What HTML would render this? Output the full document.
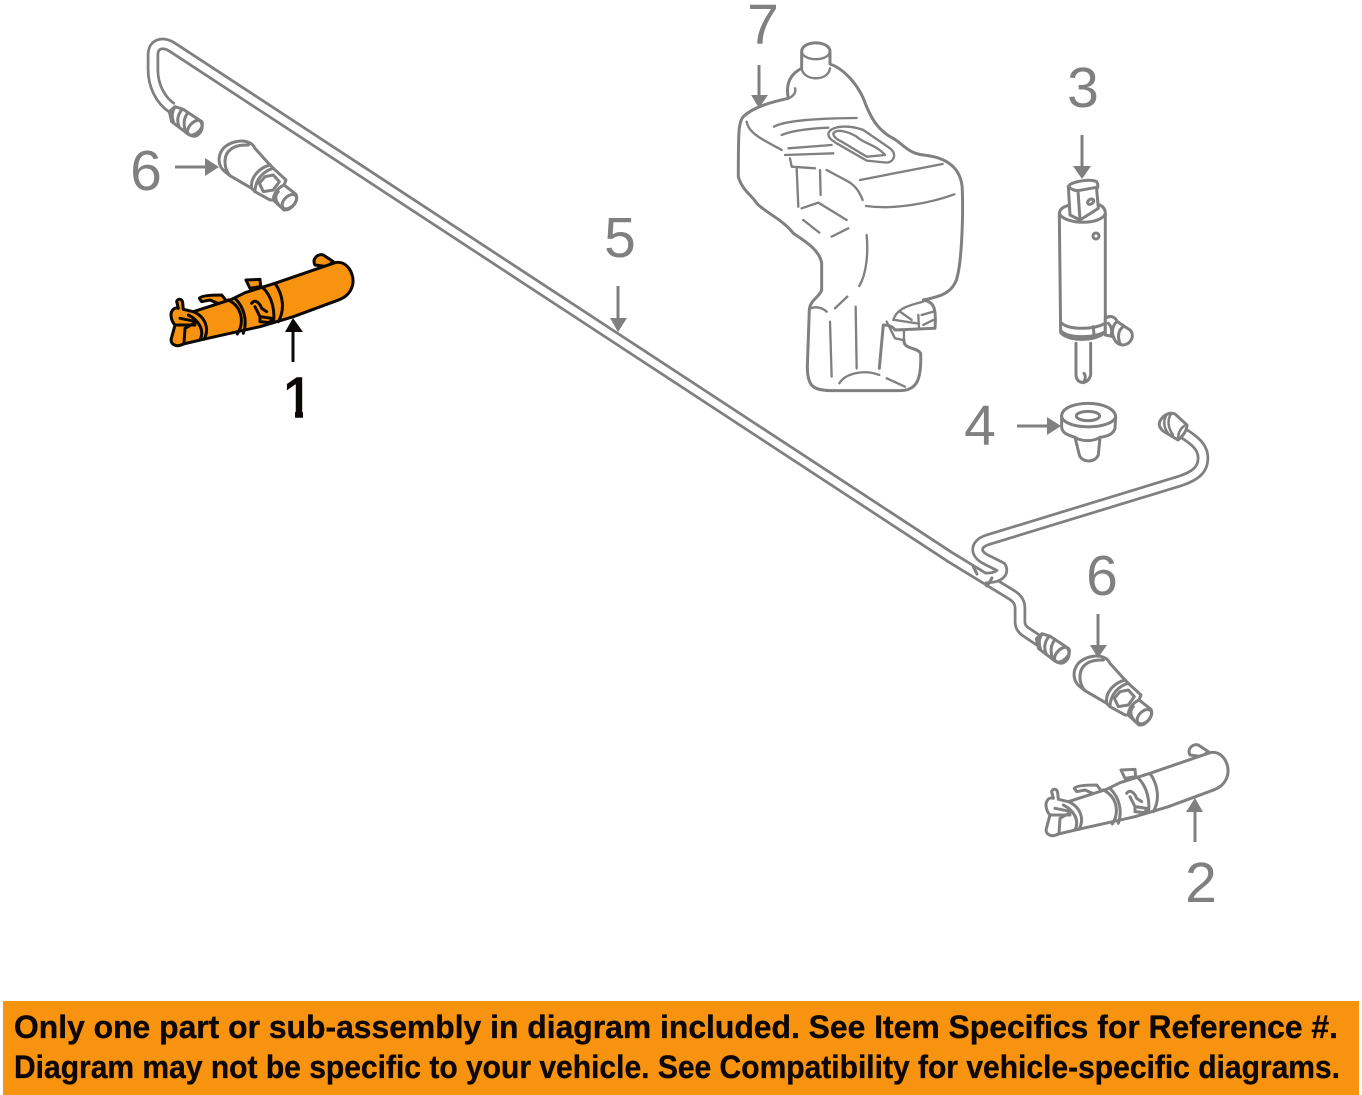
<!DOCTYPE html>
<html><head><meta charset="utf-8"><style>
html,body{margin:0;padding:0;background:#fff;width:1362px;height:1095px;overflow:hidden}
svg{display:block}
.l{fill:none;stroke:#808080;stroke-linecap:round;stroke-linejoin:round}
.n{font:57px "Liberation Sans",sans-serif;fill:#808080;text-anchor:middle}
.b{font:bold 32px "Liberation Sans",sans-serif;fill:#0d0805;stroke:#0d0805;stroke-width:.35}
</style></head><body>
<svg width="1362" height="1095" viewBox="0 0 1362 1095" xmlns="http://www.w3.org/2000/svg">
<rect width="1362" height="1095" fill="#fff"/>
<defs>
<g id="nozzle" fill="none" stroke-width="9" stroke-linecap="round" stroke-linejoin="round">
<path fill="#fff" d="M45,110C25,95 20,65 40,40C60,20 90,15 110,20C125,25 130,30 135,40L180,90L190,100L228,135L222,150L258,178C268,195 245,228 222,225L190,195L180,195L135,170L125,160L60,122Z"/>
<path d="M60,122C40,100 40,60 60,45C75,30 100,30 115,30M180,90C150,98 120,125 125,160M190,100C160,108 135,135 135,170M165,125L190,120L208,140L190,165L160,170L148,145ZM222,150C200,160 190,180 190,195M205,170C195,180 195,195 205,207"/>
<ellipse cx="238" cy="200" rx="16" ry="26" transform="rotate(45 238 200)"/>
</g>
<g id="fitting" fill="none" stroke-width="9" stroke-linecap="round" stroke-linejoin="round">
<path fill="#fff" d="M118,245L135,230L160,238L205,268C222,280 220,305 200,317C190,322 175,315 165,305L125,275Z"/>
<path d="M135,232C125,245 125,260 130,275M155,240C142,255 140,275 148,292M172,250C160,268 160,285 168,308"/>
<ellipse cx="195" cy="293" rx="16" ry="27" transform="rotate(45 195 293)"/>
</g>
<g id="cyl" stroke-width="9" stroke-linecap="round" stroke-linejoin="round">
<path d="M465,45C455,25 475,10 490,15L520,35L500,50Z"/>
<path d="M118,145C125,135 170,135 185,135L205,160L185,165L150,150L125,155Z"/>
<path d="M35,185C40,175 48,172 55,175L50,155C52,145 66,145 68,158L70,178L100,185L215,148L255,128L345,100L525,38C560,30 585,70 578,105C570,135 550,145 530,152L400,200L300,230L130,268L70,282C45,295 28,280 35,262L45,225C35,215 30,195 35,185Z"/>
<path d="M258,90L300,88L302,110L270,115Z"/>
<path fill="none" d="M205,150C245,170 255,215 232,252M225,145C255,175 262,215 250,250M345,100C370,135 375,180 355,215M305,110C340,140 345,190 340,218M100,185C135,200 150,235 132,268M85,195C115,210 135,240 120,270M60,205L110,215L75,235L72,280M45,225L105,225M275,160C285,145 300,160 305,175L320,185M285,170L300,200M300,200L335,205L330,218L300,215Z"/>
</g>
</defs>

<!-- main tube 5 -->
<path d="M172,108C160,100 153,85 153,70L153,55C153,44 162,41 172,47L950,557L1012,595Q1020,600 1020,608L1020,622Q1020,628 1026,632L1044,644" fill="none" stroke="#808080" stroke-width="12.5" stroke-linejoin="round"/>
<path d="M172,108C160,100 153,85 153,70L153,55C153,44 162,41 172,47L950,557L1012,595Q1020,600 1020,608L1020,622Q1020,628 1026,632L1044,644" fill="none" stroke="#fff" stroke-width="7" stroke-linejoin="round"/>
<use href="#fitting" stroke="#808080" transform="translate(130,30) scale(.3333)"/>
<use href="#fitting" stroke="#808080" transform="translate(997,557) scale(.3333)"/>

<!-- second tube -->
<path d="M1178,430C1195,440 1203,447 1203,458C1203,470 1195,476 1180,481L987,540C975,544 974,554 987,560L1001,567C1004,572 1000,578 985,578" fill="none" stroke="#808080" stroke-width="12.5" stroke-linejoin="round"/>
<path d="M1178,430C1195,440 1203,447 1203,458C1203,470 1195,476 1180,481L987,540C975,544 974,554 987,560L1001,567C1004,572 1000,578 985,578" fill="none" stroke="#fff" stroke-width="7" stroke-linejoin="round"/>
<path class="l" stroke-width="3" d="M973,566L977,574M992,578L987,586"/>
<path class="l" stroke-width="3" style="fill:#fff" d="M1160,421C1164,414 1170,412 1175,414L1187,425C1187,431 1182,437 1178,440L1163,431C1160,428 1158,425 1160,421Z"/>
<path class="l" stroke-width="2.5" d="M1166,416C1163,421 1164,428 1168,433M1171,414C1167,420 1168,428 1173,435M1184,426C1180,429 1178,434 1178,439"/>

<!-- nozzles 6 -->
<use href="#nozzle" stroke="#808080" transform="translate(210,135) scale(.3333)"/>
<use href="#nozzle" stroke="#808080" transform="translate(1065,650) scale(.3333)"/>

<!-- part 1 orange -->
<use href="#cyl" fill="#f7930f" stroke="#0b0805" transform="translate(160,250) scale(.3333)"/>
<!-- part 2 -->
<use href="#cyl" fill="#fff" stroke="#808080" transform="translate(1035,740) scale(.3333)"/>

<!-- tank 7 -->
<g transform="translate(720,0) scale(.3333)" fill="none" stroke="#808080" stroke-width="9" stroke-linecap="round" stroke-linejoin="round">
<path d="M205,295C198,260 205,225 245,205L245,155C245,120 330,120 330,155L330,192C370,205 410,250 430,295C450,350 470,385 510,410C545,425 560,460 610,465C660,470 725,490 727,570C730,650 725,780 712,830C700,880 660,890 610,900C640,905 650,920 645,985L525,990C515,975 495,975 490,975L478,1105M552,1020C550,1050 590,1040 602,1060C605,1140 590,1172 540,1172L330,1172C280,1170 262,1160 262,1100L268,930C270,900 300,890 305,870L305,790C300,750 250,720 220,700C190,660 140,640 110,610C100,590 65,570 55,530C55,400 55,365 70,350C100,320 160,305 205,295"/>
<path stroke-width="7" d="M245,205C250,245 325,245 330,205M245,155C250,185 325,185 330,155M205,295C220,290 230,275 225,265M80,365C85,400 130,420 185,450M162,380C200,360 300,355 410,354M185,405C220,390 280,385 325,383M205,445L335,435M195,465L340,460M210,475L215,500L285,505M230,505L235,620M300,510L302,585M245,625L295,608L380,660M250,660L298,698M335,710L385,685M320,510L385,545C410,560 420,580 428,600M420,540L668,492M438,618C520,630 630,610 703,583M440,705C445,760 440,820 418,858M345,925L382,890M272,925C290,918 310,925 320,935M330,965L335,1130M407,920L410,1105M358,1150C380,1115 440,1110 478,1125M500,1135L555,1160M552,1020L552,990"/>
<path stroke-width="7" d="M325,400C335,375 390,375 430,390L510,445C530,460 525,485 500,488L440,482L350,430C335,420 325,415 325,400ZM340,400C350,385 385,395 410,410C430,430 470,435 495,465L440,470L365,425C350,418 340,410 340,400Z"/>
<path stroke-width="7" d="M520,960C530,925 570,915 610,905M540,935L575,960M525,960L590,970M595,945L597,985M605,945L640,935M610,975L640,960M500,965L525,1015L550,1020"/>
</g>

<!-- pump 3 -->
<g transform="translate(960,60) scale(.3333)" fill="none" stroke="#808080" stroke-width="9" stroke-linecap="round" stroke-linejoin="round">
<path d="M298,462C298,445 315,438 332,435L420,435C430,440 437,448 436,462L436,815C420,840 330,850 302,818L298,462Z"/>
<path d="M298,462C320,495 420,495 436,462M305,790C330,810 400,810 436,790M305,815C330,835 400,835 436,815M400,800L402,825M348,850L348,945C350,975 385,975 392,945L392,850M372,940C380,950 375,960 370,968"/>
<ellipse cx="408" cy="528" rx="9" ry="9" transform="rotate(-30 408 528)"/>
<path style="fill:#fff" d="M436,775C450,765 465,770 472,785L510,810C525,825 515,852 490,855C475,855 465,845 460,830L436,825Z"/>
<path d="M445,790C455,800 458,815 452,828M470,785C455,800 455,820 462,835M490,800C475,810 472,830 480,850"/>
</g>
<g transform="translate(1050,170) scale(.3333)" fill="none" stroke="#808080" stroke-width="9" stroke-linecap="round" stroke-linejoin="round">
<path style="fill:#fff" d="M55,50C60,35 120,25 140,35C145,45 145,50 140,58L145,115L90,150L60,135Z"/>
<path d="M55,50C62,58 75,62 84,62L140,52M84,62L90,150"/>
<ellipse cx="122" cy="95" rx="10" ry="7" transform="rotate(-35 122 95)"/>
</g>

<!-- clip 4 -->
<g transform="translate(950,400) scale(.3333)" fill="none" stroke="#808080" stroke-width="9" stroke-linecap="round" stroke-linejoin="round">
<path d="M335,45C340,20 380,10 415,10C455,10 495,25 497,50L495,85C490,105 465,110 450,112L445,165C435,190 395,188 388,165L375,112C355,105 335,100 335,80Z"/>
<path d="M335,52C350,90 480,90 497,52M375,112C395,125 430,125 450,112"/>
<ellipse cx="414" cy="48" rx="35" ry="14"/>
</g>

<!-- arrows -->
<g stroke="#808080" stroke-width="3" fill="#808080">
<line x1="175" y1="167" x2="206" y2="167"/><path stroke="none" d="M205,158L219,167L205,176Z"/>
<line x1="759" y1="65" x2="759" y2="96"/><path stroke="none" d="M751,95L768,95L759,108Z"/>
<line x1="1082" y1="135" x2="1082" y2="167"/><path stroke="none" d="M1073,166L1091,166L1082,179Z"/>
<line x1="1017" y1="426" x2="1048" y2="426"/><path stroke="none" d="M1047,417L1061,426L1047,435Z"/>
<line x1="618" y1="286" x2="618" y2="319"/><path stroke="none" d="M610,318L627,318L618,332Z"/>
<line x1="1098" y1="614" x2="1098" y2="646"/><path stroke="none" d="M1090,645L1107,645L1098,658Z"/>
<line x1="1195" y1="842" x2="1195" y2="811"/><path stroke="none" d="M1186,812L1203,812L1195,798Z"/>
</g>
<g stroke="#0b0805" stroke-width="3" fill="#0b0805">
<line x1="293" y1="362" x2="293" y2="331"/><path stroke="none" d="M285,332L303,332L293,318Z"/>
</g>

<!-- labels -->
<text class="n" x="763" y="44">7</text>
<text class="n" x="1083" y="107">3</text>
<text class="n" x="146" y="190">6</text>
<text class="n" x="980" y="445">4</text>
<text class="n" x="620" y="257">5</text>
<text class="n" x="1102" y="595">6</text>
<text class="n" x="1201" y="902">2</text>
<text class="n" x="298" y="417" style="fill:#0b0805;stroke:#0b0805;stroke-width:1.4">1</text>
<rect x="282" y="412" width="13" height="7" fill="#fff"/>
<rect x="303" y="412" width="12" height="7" fill="#fff"/>

<!-- banner -->
<rect x="3" y="1001" width="1356" height="94" fill="#f7930f"/>
<text class="b" x="14" y="1038" textLength="1324" lengthAdjust="spacingAndGlyphs">Only one part or sub-assembly in diagram included. See Item Specifics for Reference #.</text>
<text class="b" x="14" y="1078" textLength="1326" lengthAdjust="spacingAndGlyphs">Diagram may not be specific to your vehicle. See Compatibility for vehicle-specific diagrams.</text>
</svg>
</body></html>
